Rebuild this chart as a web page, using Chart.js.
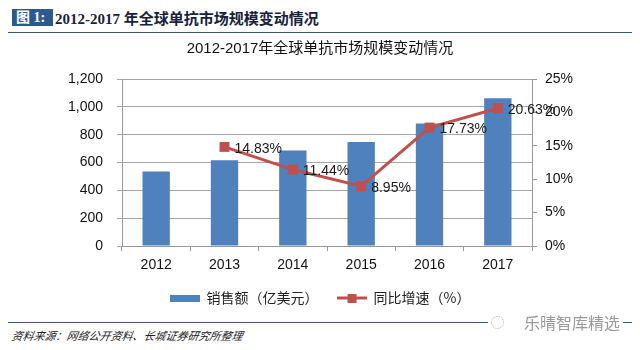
<!DOCTYPE html>
<html lang="zh">
<head>
<meta charset="UTF-8">
<title>2012-2017年全球单抗市场规模变动情况</title>
<script src="https://cdn.jsdelivr.net/npm/chart.js"></script>
<style>
    body { margin: 0; width: 640px; height: 350px; background: #fff; position: relative; overflow: hidden; font-family: "Noto Sans CJK SC", sans-serif; }
    .head { position: absolute; left: 12px; top: 9px; height: 17px; display: flex; align-items: center; }
    .head .tag { background: #2c5a8c; color: #fff; font: bold 14px "Liberation Serif", "Noto Sans CJK SC", serif; padding: 0 4px; height: 17px; line-height: 17px; width: 33px; }
    .head .txt { color: #17233b; font: bold 15px "Liberation Serif", "Noto Sans CJK SC", serif; margin-left: 2px; }
    .rule { position: absolute; left: 8px; right: 8px; height: 1px; background: #3d5573; }
    #wrap { position: absolute; left: 0; top: 36px; width: 640px; height: 285px; }
    .src { position: absolute; left: 12px; top: 327px; font: italic 11px "Noto Sans CJK SC", sans-serif; color: #222; transform: skewX(-10deg); }
    .mark { position: absolute; left: 488px; top: 312px; background: #fff; padding: 0 3px; color: #9a9a9a; font-size: 16px; line-height: 20px; display: flex; align-items: center; }
    .mark i { display: inline-block; width: 11px; height: 11px; border: 1px dotted #aaa; border-radius: 50%; margin-right: 20px; }
</style>
</head>
<body>
<div class="head"><span class="tag">图 1:</span><span class="txt">2012-2017 年全球单抗市场规模变动情况</span></div>
<div class="rule" style="top:32px"></div>
<div id="wrap"><canvas id="chart"></canvas></div>
<div class="rule" style="top:322px"></div>
<div class="mark"><i></i>乐晴智库精选</div>
<div class="src">资料来源：网络公开资料、长城证券研究所整理</div>

<script>
    // market size (100 million USD) and year-on-year growth
    const years = ['2012', '2013', '2014', '2015', '2016', '2017'];
    const sales = [536, 616, 686, 748, 880, 1062];
    const growth = [null, 14.83, 11.44, 8.95, 17.73, 20.63];

    const tickFont = { family: '"Liberation Sans", sans-serif', size: 14 };

    // legend icons: blue box for bars, red line with square marker for growth
    function barIcon() {
        const c = document.createElement('canvas');
        c.width = 30; c.height = 7;
        const g = c.getContext('2d');
        g.fillStyle = '#4F81BD';
        g.fillRect(0, 0, 30, 7);
        return c;
    }
    function lineIcon() {
        const c = document.createElement('canvas');
        c.width = 30; c.height = 9;
        const g = c.getContext('2d');
        g.fillStyle = '#C0504D';
        g.fillRect(0, 3, 30, 3);
        g.fillRect(11, 0, 9, 9);
        return c;
    }

    // percentage labels to the right of each growth point
    const pointLabels = {
        id: 'pointLabels',
        afterDatasetsDraw(chart) {
            const ctx = chart.ctx;
            const meta = chart.getDatasetMeta(1);
            ctx.save();
            ctx.font = '14px "Liberation Sans", sans-serif';
            ctx.fillStyle = '#1a1a1a';
            ctx.textAlign = 'left';
            ctx.textBaseline = 'middle';
            meta.data.forEach((pt, i) => {
                if (growth[i] == null) return;
                ctx.fillText(growth[i].toFixed(2) + '%', pt.x + 10, pt.y + 2);
            });
            ctx.restore();
        }
    };

    new Chart(document.getElementById('chart'), {
        data: {
            labels: years,
            datasets: [{
                type: 'bar',
                label: '销售额（亿美元）',
                data: sales,
                backgroundColor: '#4F81BD',
                categoryPercentage: 1,
                barPercentage: 0.4,
                yAxisID: 'y',
                order: 2
            }, {
                type: 'line',
                label: '同比增速（%）',
                data: growth,
                borderColor: '#C0504D',
                backgroundColor: '#C0504D',
                borderWidth: 3,
                pointStyle: 'rect',
                pointRadius: 7,
                pointBorderWidth: 0,
                yAxisID: 'y1',
                order: 1
            }]
        },
        options: {
            responsive: true,
            maintainAspectRatio: false,
            animation: false,
            layout: { padding: { left: 0, right: 0, top: 0, bottom: 6 } },
            plugins: {
                title: {
                    display: true,
                    text: '2012-2017年全球单抗市场规模变动情况',
                    color: '#111',
                    font: { family: '"Liberation Sans", "Noto Sans CJK SC", sans-serif', size: 15, weight: 'normal' },
                    padding: { top: 4, bottom: 21 }
                },
                legend: {
                    position: 'bottom',
                    labels: {
                        usePointStyle: true,
                        pointStyleWidth: 30,
                        color: '#222',
                        font: { family: '"Noto Sans CJK SC", sans-serif', size: 14 },
                        padding: 18,
                        generateLabels(chart) {
                            return chart.data.datasets.map((ds, i) => ({
                                text: ds.label,
                                datasetIndex: i,
                                pointStyle: i === 0 ? barIcon() : lineIcon(),
                                fillStyle: ds.backgroundColor,
                                strokeStyle: ds.backgroundColor,
                                lineWidth: 0,
                                fontColor: '#222'
                            }));
                        }
                    }
                },
                tooltip: { enabled: false }
            },
            scales: {
                x: {
                    offset: true,
                    grid: { display: true, drawOnChartArea: false, offset: true, color: '#999', tickLength: 5 },
                    border: { color: '#999' },
                    ticks: { color: '#111', font: tickFont, padding: 6 },
                    afterFit(s) { s.height = 27; }
                },
                y: {
                    position: 'left',
                    min: 0, max: 1200,
                    ticks: {
                        stepSize: 200, color: '#111', font: tickFont, padding: 14,
                        callback: v => v.toLocaleString('en-US')
                    },
                    grid: { color: '#a6a6a6', tickLength: 5 },
                    border: { color: '#999' },
                    afterFit(s) { s.width = 122; }
                },
                y1: {
                    position: 'right',
                    min: 0, max: 25,
                    ticks: { stepSize: 5, color: '#111', font: tickFont, padding: 8, callback: v => v + '%' },
                    grid: { drawOnChartArea: false, color: '#999', tickLength: 5 },
                    border: { color: '#999' },
                    afterFit(s) { s.width = 108; }
                }
            }
        },
        plugins: [pointLabels]
    });
</script>
</body>
</html>
